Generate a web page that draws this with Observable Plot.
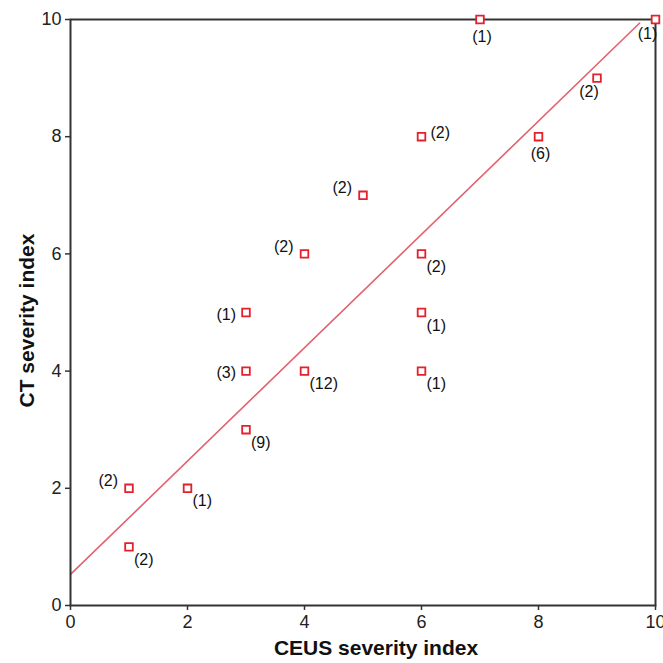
<!DOCTYPE html>
<html>
<head>
<meta charset="utf-8">
<script src="https://cdn.jsdelivr.net/npm/d3@7"></script>
<script src="https://cdn.jsdelivr.net/npm/@observablehq/plot@0.6"></script>
<style>
  html, body { margin: 0; padding: 0; background: #fff; }
  #chart { width: 663px; height: 663px; }
</style>
</head>
<body>
<div id="chart"></div>
<script>
// Data
const ceus   = [1, 1, 2, 3, 3, 3, 4, 4, 5, 6, 6, 6, 6, 7, 8, 9, 10];
const ct     = [2, 1, 2, 3, 4, 5, 4, 6, 7, 8, 6, 5, 4, 10, 8, 9, 10];
const counts = [2, 2, 1, 9, 3, 1, 12, 2, 2, 2, 2, 1, 1, 1, 6, 2, 1];
const labelSide = ["NW","SE","SE","SE","W","W","SE","NW","NW","E","SE","SE","SE","S","S","SW","SW"];

// Fitted line endpoints
const fitX = [0, 9.73];
const fitY = [0.53, 9.94];

const ticks = [0, 2, 4, 6, 8, 10];
const xTitle = "CEUS severity index";
const yTitle = "CT severity index";

const points = ceus.map((x, i) => ({x, y: ct[i], label: `(${counts[i]})`, side: labelSide[i]}));
const fit = fitX.map((x, i) => ({x, y: fitY[i]}));

const sideStyle = {
  W:  {textAnchor: "end",    dx: -10, dy: 2},
  NW: {textAnchor: "end",    dx: -11, dy: -7},
  E:  {textAnchor: "start",  dx: 9,   dy: -4},
  SE: {textAnchor: "start",  dx: 5,   dy: 13},
  S:  {textAnchor: "middle", dx: 2,   dy: 17},
  SW: {textAnchor: "middle", dx: -8,  dy: 14}
};

const font = "'Liberation Sans', Arial, Helvetica, sans-serif";

const labelMarks = Object.entries(sideStyle).map(([side, s]) =>
  Plot.text(points.filter(d => d.side === side), {
    x: "x", y: "y", text: "label",
    textAnchor: s.textAnchor, dx: s.dx, dy: s.dy,
    fontSize: 16, fill: "#111"
  })
);

const chart = Plot.plot({
  width: 663,
  height: 663,
  marginLeft: 70,
  marginRight: 8,
  marginTop: 19,
  marginBottom: 58,
  style: {fontFamily: font, background: "#fff", overflow: "visible"},
  x: {domain: [0, 10]},
  y: {domain: [0, 10]},
  marks: [
    Plot.line(fit, {x: "x", y: "y", stroke: "#e2636f", strokeWidth: 1.6}),
    Plot.frame({stroke: "#333", strokeWidth: 2}),
    Plot.axisX({ticks, tickSize: 5, tickPadding: 5, fontSize: 18, label: null, stroke: "#333", strokeWidth: 1.5, fill: "#222"}),
    Plot.axisY({ticks, tickSize: 5, tickPadding: 4, fontSize: 18, label: null, stroke: "#333", strokeWidth: 1.5, fill: "#222"}),
    Plot.dot(points, {x: "x", y: "y", symbol: "square", r: 4.3, fill: "#fff", stroke: "#e4202c", strokeWidth: 1.8}),
    ...labelMarks,
    Plot.text([xTitle], {frameAnchor: "bottom", textAnchor: "middle", lineAnchor: "bottom", dx: 13, dy: 49, fontSize: 21, fontWeight: "bold", fill: "#111"}),
    Plot.text([yTitle], {frameAnchor: "left", textAnchor: "middle", lineAnchor: "middle", rotate: -90, dx: -43, dy: 8, fontSize: 21, fontWeight: "bold", fill: "#111"})
  ]
});

document.getElementById("chart").appendChild(chart);
</script>
</body>
</html>
